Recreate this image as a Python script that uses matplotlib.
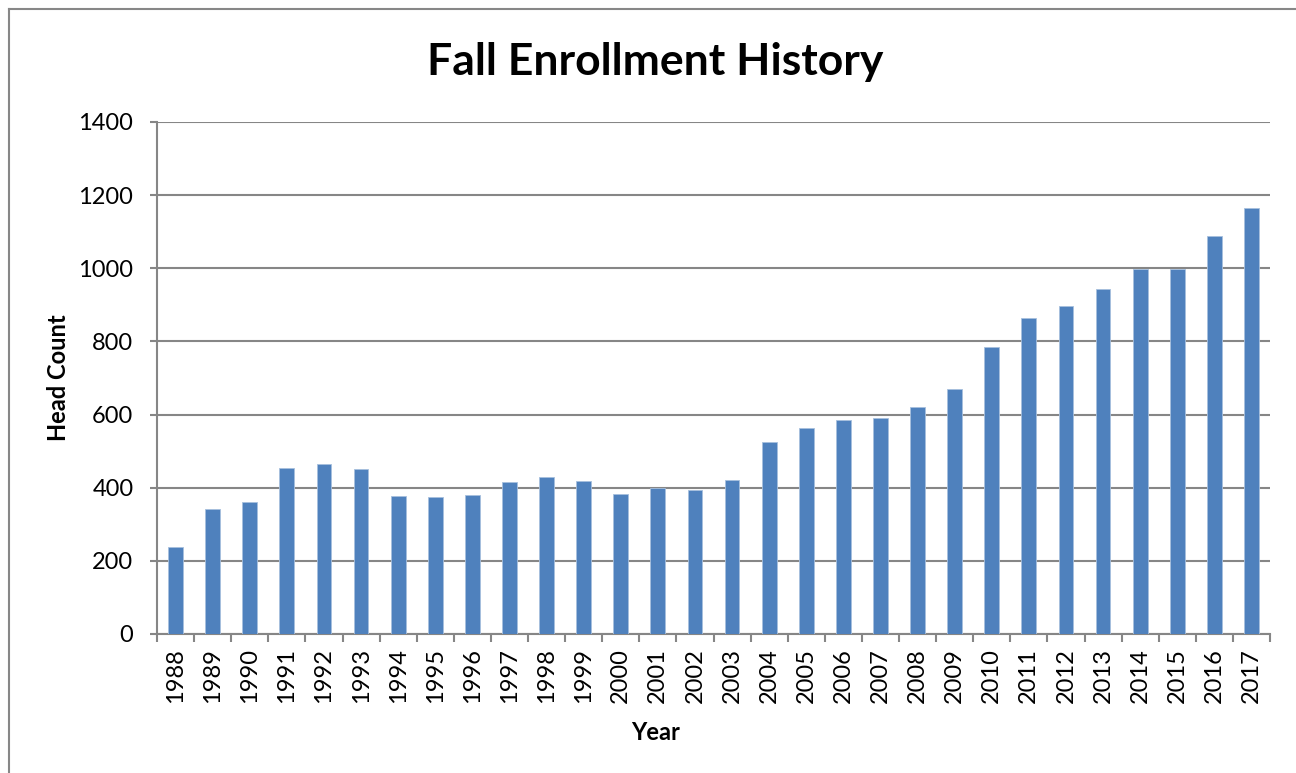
import matplotlib
matplotlib.use("Agg")
import matplotlib.pyplot as plt
from matplotlib.lines import Line2D

years = [str(y) for y in range(1988, 2018)]
head_count = [237, 341, 361, 454, 466, 451, 377, 374, 381, 415,
              430, 417, 384, 400, 395, 420, 526, 563, 585, 590,
              622, 670, 785, 865, 897, 942, 999, 999, 1087, 1165]
y_ticks = [0, 200, 400, 600, 800, 1000, 1200, 1400]

W, H = 1296, 773
fig = plt.figure(figsize=(W / 100, H / 100), dpi=100)
plt.rcParams['font.family'] = ['Lato', 'DejaVu Sans']

# chart border (top and left edges visible)
bx, by = 9 / W, 1 - 9 / H
fig.lines.append(Line2D([bx, 1.01], [by, by], transform=fig.transFigure,
                        color='#878787', linewidth=1.5))
fig.lines.append(Line2D([bx, bx], [-0.01, by], transform=fig.transFigure,
                        color='#878787', linewidth=1.5))

ax = fig.add_axes([157 / W, 1 - 634 / H, (1270 - 157) / W, (634 - 122) / H])
x = list(range(len(years)))
ax.bar(x, head_count, width=0.4, color='#4F81BD', edgecolor='#A7C0DE', linewidth=0.6, zorder=3)

ax.set_xlim(-0.5, len(years) - 0.5)
ax.set_ylim(0, 1400)
ax.set_yticks(y_ticks)
ax.set_yticklabels([str(v) for v in y_ticks], fontsize=17)
ax.yaxis.grid(True, color='#868686', linewidth=1.5, zorder=0)
ax.set_axisbelow(True)

ax.set_xticks(x)
ax.set_xticklabels(years, rotation=90, fontsize=17)
ax.tick_params(axis='x', length=0, pad=10)
ax.set_xticks([i - 0.5 for i in range(len(years) + 1)], minor=True)
ax.tick_params(axis='x', which='minor', length=6, width=1.5, color='#868686', direction='out')
ax.tick_params(axis='y', length=5, width=1.5, color='#868686', direction='out', pad=12)

for s in ['top', 'right']:
    ax.spines[s].set_visible(False)
for s in ['left', 'bottom']:
    ax.spines[s].set_color('#868686')
    ax.spines[s].set_linewidth(1.5)

fig.text(655 / W, 1 - 62 / H, 'Fall Enrollment History', ha='center', va='center',
         fontsize=32, fontweight='bold')
fig.text(59 / W, 1 - 378 / H, 'Head Count', ha='center', va='center', rotation=90,
         fontsize=17, fontweight='bold')
fig.text(656 / W, 1 - 733 / H, 'Year', ha='center', va='center',
         fontsize=17, fontweight='bold')

fig.savefig('out.png', dpi=100)
